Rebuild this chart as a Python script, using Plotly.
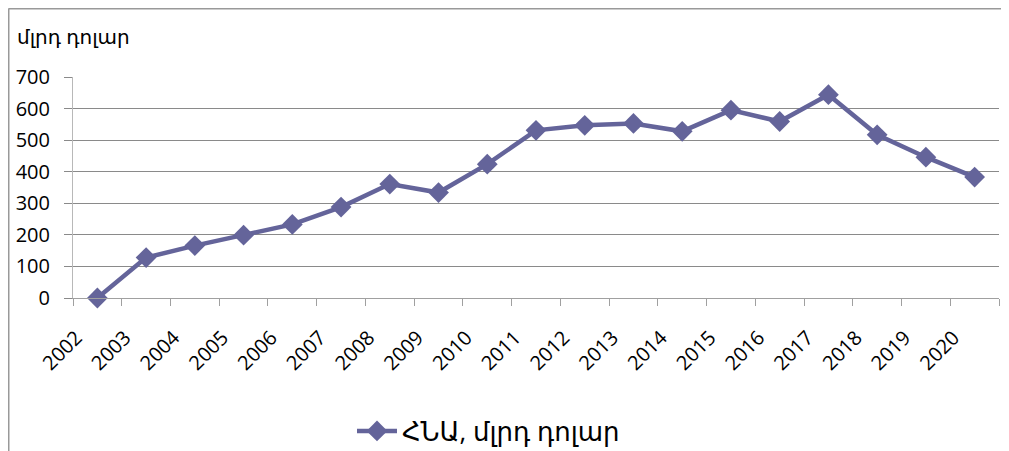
import plotly.graph_objects as go

years = [str(y) for y in range(2002, 2021)]
gdp = [0, 128, 166, 199, 233, 288, 361, 334, 424, 531, 547, 553, 528, 595, 559, 644, 517, 446, 383]
series_name = "ՀՆԱ, մլրդ դոլար"
y_title = "մլրդ դոլար"
y_ticks = [0, 100, 200, 300, 400, 500, 600, 700]

# the page adds an 8px body margin, so the figure is drawn 8px in from the window corner
OFF = 8
W, H = 1009 - OFF, 451 - OFF
L, R, T, B = 65, 10, 69, 153
PW, PH = W - L - R, H - T - B


def px_x(page_px):
    return (page_px - OFF - L) / PW


def px_y(page_py):
    return (H - B - (page_py - OFF)) / PH


color = "#64649a"
font_main = "Open Sans, DejaVu Sans, sans-serif"

fig = go.Figure()
fig.add_trace(go.Scatter(
    x=years, y=gdp, mode="lines+markers", name=series_name,
    line=dict(color=color, width=4.5),
    marker=dict(symbol="diamond", size=16, color=color),
    cliponaxis=False,
))

fig.update_layout(
    width=W, height=H,
    margin=dict(l=L, r=R, t=T, b=B, autoexpand=False),
    plot_bgcolor="white", paper_bgcolor="white",
    font=dict(family=font_main, size=19, color="black"),
    showlegend=True,
    legend=dict(orientation="h", x=px_x(352), xanchor="left", y=px_y(431), yanchor="middle",
                font=dict(size=26, family=font_main), itemwidth=40, bgcolor="rgba(0,0,0,0)"),
    xaxis=dict(type="category", range=[-0.5, len(years) - 0.5], tickson="boundaries",
               ticks="outside", ticklen=7, tickcolor="#a0a0a0", tickangle=-45,
               showgrid=False, showline=True, linecolor="#a0a0a0", linewidth=1,
               tickfont=dict(size=20), ticklabelshift=-21, ticklabelstandoff=19,
               automargin=False),
    yaxis=dict(range=[0, 700], tickvals=y_ticks, ticks="outside", ticklen=8, tickcolor="#8a8a8a",
               showgrid=True, gridcolor="#8a8a8a", gridwidth=1, zeroline=False,
               showline=True, linecolor="#b8b8b8", linewidth=1,
               tickfont=dict(size=20), ticklabelstandoff=10, automargin=False),
    shapes=[
        dict(type="line", xref="paper", yref="paper", x0=px_x(8.5), x1=px_x(1009), y0=px_y(8.75),
             y1=px_y(8.75), line=dict(color="#999999", width=1.5)),
        dict(type="line", xref="paper", yref="paper", x0=px_x(8.75), x1=px_x(8.75), y0=px_y(8.5),
             y1=px_y(451), line=dict(color="#999999", width=1.5)),
    ],
    annotations=[
        dict(text=y_title, xref="paper", yref="paper", x=px_x(15), y=px_y(37), xanchor="left",
             yanchor="middle", showarrow=False, font=dict(size=20, family=font_main)),
    ],
)

fig.write_html("out.html")
